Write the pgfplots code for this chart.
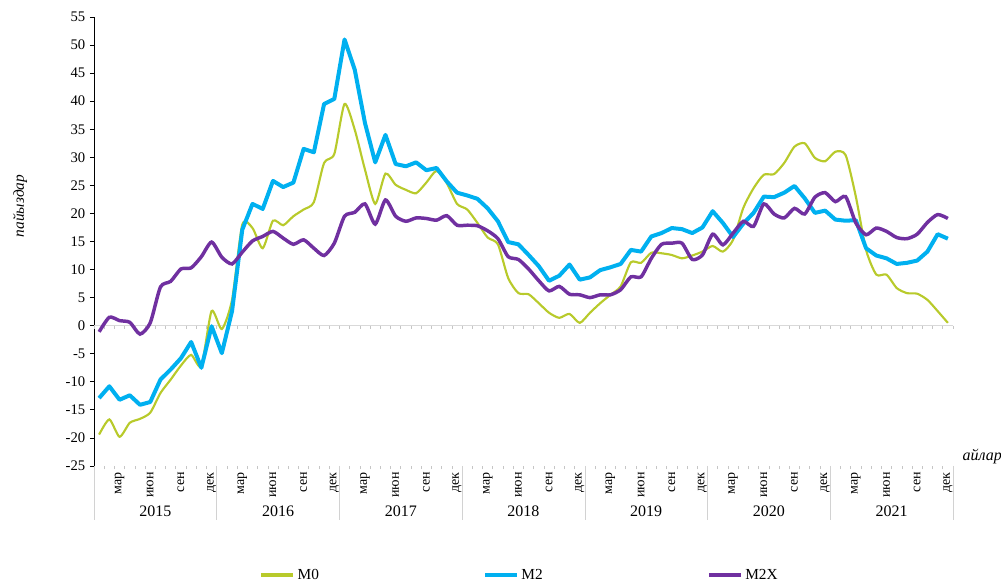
\documentclass[border=0pt]{standalone}
\usepackage{fontspec}
\setmainfont{Liberation Serif}
\usepackage{pgfplots}
\usepackage{pgfplotstable}
\pgfplotsset{compat=1.18}
\definecolor{cMzero}{HTML}{B8CA2B}
\definecolor{cMtwo}{HTML}{00B0F0}
\definecolor{cMtwox}{HTML}{7030A0}
\pgfplotstableread{
m v
1 -19.4
2 -16.7
3 -19.8
4 -17.3
5 -16.6
6 -15.5
7 -12.0
8 -9.6
9 -7.1
10 -5.2
11 -7.2
12 2.6
13 -0.6
14 4.6
15 18.0
16 17.4
17 13.8
18 18.7
19 17.9
20 19.5
21 20.7
22 22.0
23 29.0
24 30.6
25 39.5
26 34.9
27 27.8
28 21.7
29 27.1
30 25.1
31 24.2
32 23.6
33 25.5
34 27.6
35 25.4
36 21.7
37 20.7
38 18.3
39 15.7
40 14.5
41 8.5
42 5.8
43 5.6
44 4.0
45 2.3
46 1.4
47 2.1
48 0.5
49 2.3
50 4.0
51 5.5
52 7.0
53 11.3
54 11.2
55 13.0
56 12.9
57 12.6
58 12.0
59 12.5
60 13.2
61 14.2
62 13.2
63 15.3
64 21.0
65 24.5
66 26.9
67 27.0
68 29.0
69 31.9
70 32.5
71 29.9
72 29.3
73 31.0
74 30.4
75 23.0
76 13.5
77 9.1
78 9.1
79 6.7
80 5.8
81 5.7
82 4.6
83 2.6
84 0.5
}\tMzero
\pgfplotstableread{
m v
1 -12.9
2 -10.8
3 -13.2
4 -12.4
5 -14.1
6 -13.6
7 -9.6
8 -7.8
9 -5.8
10 -2.9
11 -7.5
12 -0.1
13 -4.9
14 2.6
15 17.1
16 21.7
17 20.8
18 25.8
19 24.7
20 25.5
21 31.5
22 30.9
23 39.5
24 40.4
25 51.0
26 45.6
27 36.1
28 29.1
29 34.0
30 28.8
31 28.4
32 29.1
33 27.7
34 28.1
35 25.7
36 23.7
37 23.2
38 22.6
39 20.9
40 18.6
41 14.9
42 14.5
43 12.6
44 10.6
45 8.0
46 8.9
47 10.9
48 8.2
49 8.6
50 9.9
51 10.4
52 11.0
53 13.5
54 13.2
55 15.9
56 16.5
57 17.4
58 17.2
59 16.5
60 17.5
61 20.4
62 18.3
63 15.8
64 18.2
65 20.1
66 23.0
67 22.9
68 23.7
69 24.9
70 22.7
71 20.1
72 20.5
73 18.9
74 18.7
75 18.8
76 13.8
77 12.5
78 12.0
79 11.0
80 11.2
81 11.6
82 13.2
83 16.3
84 15.5
}\tMtwo
\pgfplotstableread{
m v
1 -1.1
2 1.5
3 0.9
4 0.6
5 -1.5
6 0.5
7 6.9
8 7.9
9 10.1
10 10.3
11 12.3
12 14.9
13 12.2
14 11.0
15 13.1
16 15.1
17 15.9
18 16.8
19 15.6
20 14.5
21 15.3
22 13.8
23 12.5
24 14.7
25 19.5
26 20.2
27 21.7
28 18.1
29 22.4
30 19.5
31 18.6
32 19.2
33 19.1
34 18.8
35 19.6
36 17.9
37 17.9
38 17.8
39 16.9
40 15.5
41 12.3
42 11.8
43 10.1
44 8.0
45 6.2
46 7.0
47 5.6
48 5.5
49 5.0
50 5.5
51 5.5
52 6.4
53 8.7
54 8.7
55 12.0
56 14.5
57 14.7
58 14.7
59 11.8
60 12.6
61 16.3
62 14.4
63 16.5
64 18.6
65 17.7
66 21.7
67 19.9
68 19.2
69 20.9
70 19.9
71 22.9
72 23.7
73 22.1
74 23.0
75 18.3
76 16.2
77 17.4
78 16.8
79 15.7
80 15.5
81 16.3
82 18.4
83 19.8
84 19.1
}\tMtwox
\begin{document}
\begin{tikzpicture}
\path[use as bounding box] (0,0) rectangle (750.75pt,438pt);
\begin{axis}[
  at={(70.5pt,88.5pt)}, anchor=south west,
  scale only axis, width=644.25pt, height=336.75pt,
  xmin=0.5, xmax=84.5, ymin=-25, ymax=55,
  clip=false,
  axis lines=left,
  x axis line style={draw=none},
  y axis line style={-, black, line width=0.6pt},
  tick align=outside,
  ytick={-25,-20,...,55},
  major tick length=3pt,
  ytick style={black, line width=0.6pt},
  xtick={3,6,...,84},
  major x tick style={draw=none},
  minor xtick={0.5,1.5,...,84.5},
  minor tick length=2.5pt,
  minor x tick style={gray!45, line width=0.5pt},
  xticklabels={мар,июн,сен,дек,мар,июн,сен,дек,мар,июн,сен,дек,мар,июн,сен,дек,мар,июн,сен,дек,мар,июн,сен,дек,мар,июн,сен,дек},
  xticklabel style={rotate=90, anchor=east, font=\fontsize{10.5}{12}\selectfont, inner sep=1.5pt},
  yticklabel style={font=\fontsize{11}{12}\selectfont},
  /pgf/number format/assume math mode=true,
  ylabel={\itshape пайыздар},
  ylabel style={at={(rel axis cs:-0.086,0.579)}, anchor=center, font=\fontsize{11.5}{13}\selectfont},
  legend style={at={(0.496,-0.2428)}, anchor=center, draw=none, fill=none,
    legend columns=3, font=\fontsize{11.5}{13}\selectfont,
    /tikz/every even column/.append style={column sep=121.5pt}},
  legend cell align=left,
  legend image code/.code={\draw[#1, line width=2.4pt] (0pt,0pt) -- (24pt,0pt);},
]
\draw[gray!30, line width=1.2pt] (axis cs:0.5,0) -- (axis cs:84.5,0);
\pgfplotsinvokeforeach{0,...,84}{
  \draw[gray!45, line width=0.5pt] (axis cs:#1.5,0) -- ([yshift=-2.5pt]axis cs:#1.5,0);
}
\pgfplotsinvokeforeach{0,12,24,36,48,60,72,84}{
  \draw[gray!35, line width=0.5pt] (axis cs:#1.5,-25) -- ([yshift=-40.5pt]axis cs:#1.5,-25);
}
\node[font=\fontsize{12}{13}\selectfont] at ([yshift=-33.75pt]axis cs:6.5,-25) {2015};
\node[font=\fontsize{12}{13}\selectfont] at ([yshift=-33.75pt]axis cs:18.5,-25) {2016};
\node[font=\fontsize{12}{13}\selectfont] at ([yshift=-33.75pt]axis cs:30.5,-25) {2017};
\node[font=\fontsize{12}{13}\selectfont] at ([yshift=-33.75pt]axis cs:42.5,-25) {2018};
\node[font=\fontsize{12}{13}\selectfont] at ([yshift=-33.75pt]axis cs:54.5,-25) {2019};
\node[font=\fontsize{12}{13}\selectfont] at ([yshift=-33.75pt]axis cs:66.5,-25) {2020};
\node[font=\fontsize{12}{13}\selectfont] at ([yshift=-33.75pt]axis cs:78.5,-25) {2021};
\node[font=\itshape\fontsize{12}{13}\selectfont] at (rel axis cs:1.034,0.02) {айлар};
\addplot[cMzero, line width=1.6pt, smooth, tension=0.4] table[x=m,y=v] {\tMzero};
\addlegendentry{M0}
\addplot[cMtwo, line width=3pt, line join=round] table[x=m,y=v] {\tMtwo};
\addlegendentry{M2}
\addplot[cMtwox, line width=2.6pt, smooth, tension=0.4] table[x=m,y=v] {\tMtwox};
\addlegendentry{M2X}
\end{axis}
\end{tikzpicture}
\end{document}
